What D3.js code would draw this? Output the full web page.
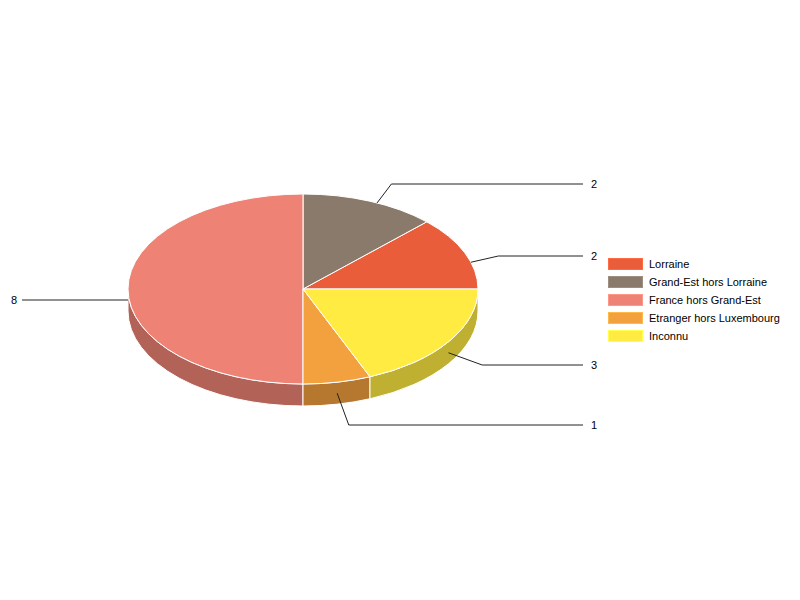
<!DOCTYPE html>
<html>
<head>
<meta charset="utf-8">
<script src="https://cdn.jsdelivr.net/npm/d3@7"></script>
<style>
  body { margin: 0; background: #fff; }
  svg { display: block; font-family: "Liberation Sans", Arial, sans-serif; }
</style>
</head>
<body>
<div id="chart"></div>
<script>
// data
const categories = ["Lorraine", "Grand-Est hors Lorraine", "France hors Grand-Est", "Etranger hors Luxembourg", "Inconnu"];
const counts = [2, 2, 8, 1, 3];
const colours = ["#E95D3A", "#8A7A6C", "#EE8375", "#F3A03F", "#FFEB42"];

const width = 800;
const height = 600;

// ellipse of the top face and thickness of the pie
const cx = 303, cy = 289;
const rx = 175, ry = 95;
const depth = 22;
const labelGap = 33;

const svg = d3.select("#chart")
    .append("svg")
    .attr("width", width)
    .attr("height", height);

const color = d3.scaleOrdinal()
    .domain(categories)
    .range(colours);

// angles go counterclockwise from 3 o'clock, y pointing up
const pie = d3.pie()
    .sort(null)
    .value(d => d.value)
    .startAngle(0)
    .endAngle(2 * Math.PI);

const slices = pie(categories.map((c, i) => ({ name: c, value: counts[i] })));

function pt(a, z) {
    return [cx + rx * Math.cos(a), cy - ry * Math.sin(a) + z];
}

function shade(c, k) {
    const rgb = d3.rgb(c);
    return d3.rgb(rgb.r * k, rgb.g * k, rgb.b * k).formatHex();
}

function topPath(d) {
    const p0 = pt(d.startAngle, 0);
    const p1 = pt(d.endAngle, 0);
    const large = (d.endAngle - d.startAngle) > Math.PI ? 1 : 0;
    return `M${cx},${cy}L${p0[0]},${p0[1]}A${rx},${ry} 0 ${large} 0 ${p1[0]},${p1[1]}Z`;
}

// only the front half of the rim (angles between PI and 2PI) can be seen
function sidePath(d) {
    const s = Math.max(d.startAngle, Math.PI);
    const e = Math.min(d.endAngle, 2 * Math.PI);
    if (e <= s) return null;
    const a = pt(s, 0), b = pt(e, 0), c = pt(e, depth), f = pt(s, depth);
    return `M${a[0]},${a[1]}A${rx},${ry} 0 0 0 ${b[0]},${b[1]}` +
        `L${c[0]},${c[1]}A${rx},${ry} 0 0 1 ${f[0]},${f[1]}Z`;
}

// sides first, then the top faces
svg.append("g")
    .selectAll("path")
    .data(slices.filter(d => sidePath(d) !== null))
    .join("path")
    .attr("d", sidePath)
    .attr("fill", d => shade(color(d.data.name), 0.75))
    .attr("stroke", "#fff")
    .attr("stroke-width", 1)
    .attr("stroke-linejoin", "round");

svg.append("g")
    .selectAll("path")
    .data(slices)
    .join("path")
    .attr("d", topPath)
    .attr("fill", d => color(d.data.name))
    .attr("stroke", "#fff")
    .attr("stroke-width", 1)
    .attr("stroke-linejoin", "round");

// label anchors: a point on the middle of the rim, pushed out to the top edge
// for slices on the back half, then a bend and a horizontal leader
function labelPoints(d) {
    const mid = (d.startAngle + d.endAngle) / 2;
    const mx = cx, my = cy + depth / 2;
    let px = mx + rx * Math.cos(mid);
    let py = my - ry * Math.sin(mid);
    const len = Math.hypot(px - mx, py - my);
    const ux = (px - mx) / len, uy = (py - my) / len;
    if (Math.sin(mid) > 0.001) {
        const h = depth / 2;
        const A = ux * ux / (rx * rx) + uy * uy / (ry * ry);
        const B = 2 * h * uy / (ry * ry);
        const C = h * h / (ry * ry) - 1;
        const t = (-B + Math.sqrt(B * B - 4 * A * C)) / (2 * A);
        px = mx + t * ux;
        py = my + t * uy;
    }
    const te = 1 / Math.sqrt(Math.pow(ux / (rx + labelGap), 2) + Math.pow(uy / (ry + labelGap), 2));
    const ex = mx + te * ux, ey = my + te * uy;
    const right = ux >= 0;
    const endX = right ? 583 : 22;
    return { px, py, ex, ey, endX, right, value: d.data.value };
}

const labels = slices.map(labelPoints);

const lab = svg.append("g");

lab.selectAll("polyline")
    .data(labels)
    .join("polyline")
    .attr("points", d => `${d.px},${d.py} ${d.ex},${Math.round(d.ey)} ${d.endX},${Math.round(d.ey)}`)
    .attr("fill", "none")
    .attr("stroke", "#222")
    .attr("stroke-width", 1);

lab.selectAll("text")
    .data(labels)
    .join("text")
    .attr("x", d => d.right ? 591 : 17)
    .attr("y", d => Math.round(d.ey))
    .attr("dy", "0.35em")
    .attr("text-anchor", d => d.right ? "start" : "end")
    .attr("font-size", 11)
    .attr("fill", "#000")
    .text(d => d.value);

// legend
const legend = svg.append("g")
    .attr("transform", "translate(608,258)");

const rows = legend.selectAll("g")
    .data(categories)
    .join("g")
    .attr("transform", (d, i) => `translate(0,${i * 18})`);

rows.append("rect")
    .attr("x", 0.5)
    .attr("y", 0.5)
    .attr("width", 34)
    .attr("height", 11)
    .attr("fill", d => color(d))
    .attr("stroke", d => d3.color(color(d)).brighter(0.4))
    .attr("stroke-width", 1);

rows.append("text")
    .attr("x", 41)
    .attr("y", 6)
    .attr("dy", "0.35em")
    .attr("font-size", 11)
    .attr("fill", "#000")
    .text(d => d);
</script>
</body>
</html>
